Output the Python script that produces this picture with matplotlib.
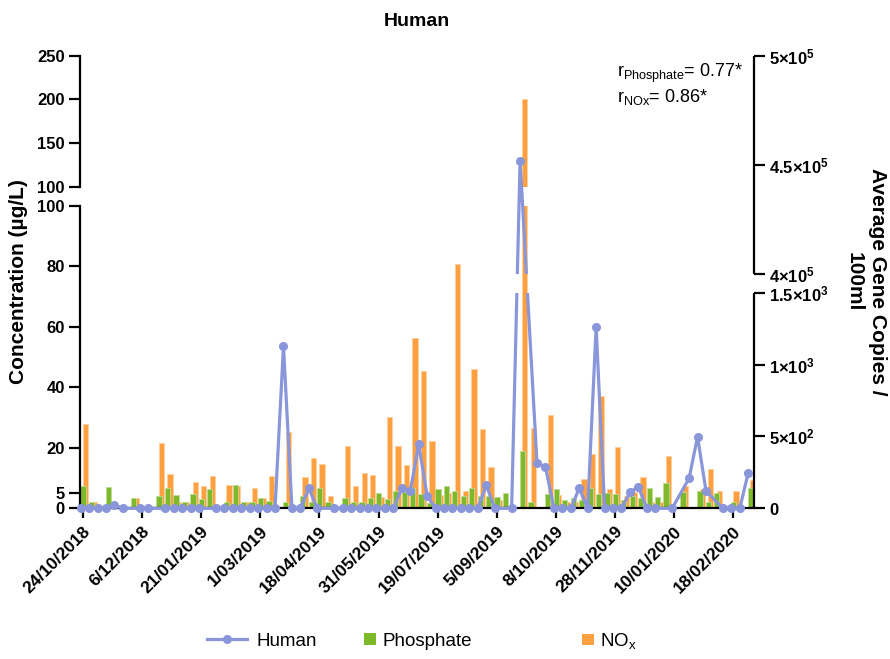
import numpy as np
import matplotlib
matplotlib.use("Agg")
import matplotlib.pyplot as plt
import matplotlib.patches as mpatches
from matplotlib.lines import Line2D
from matplotlib.legend_handler import HandlerPatch

plt.rcParams['font.family'] = ['Liberation Sans', 'DejaVu Sans']
plt.rcParams['mathtext.fontset'] = 'custom'
plt.rcParams['mathtext.rm'] = 'Liberation Sans'
plt.rcParams['mathtext.it'] = 'Liberation Sans:italic'
plt.rcParams['mathtext.bf'] = 'Liberation Sans:bold'

# --- sampling dates shown on the x axis (every 7th sample) ---
date_labels = ['24/10/2018', '6/12/2018', '21/01/2019', '1/03/2019', '18/04/2019',
               '31/05/2019', '19/07/2019', '5/09/2019', '8/10/2019', '28/11/2019',
               '10/01/2020', '18/02/2020']

# --- Human marker, gene copies / 100 ml (nan = not measured) ---
human = [0, 0, 0, 0, 23, 0, np.nan, 0, 0, np.nan,
         0, 0, 0, 0, 0, np.nan, 0, 0, 0, 0,
         0, 0, 0, 0, 1130, 0, 0, 139, 0, np.nan,
         0, 0, 0, 0, 0, 0, 0, 0, 139, 120,
         445, 88, 0, 0, 0, 0, 0, 0, 162, 0,
         np.nan, 0, 452000, np.nan, 313, 290, 0, 0, 0, 139,
         0, 1263, 0, 0, 0, 111, 150, 0, 0, np.nan,
         0, np.nan, 209, 498, 120, np.nan, 0, 0, 0, 248]

# --- nutrient concentrations, ug/L ---
phosphate = [7.2, 2.2, 0, 6.9, 0, 0, 3.5, 0, 0, 3.9,
             6.8, 4.3, 2.2, 4.6, 3.1, 6.4, 0, 2.2, 7.7, 2.2,
             2.2, 3.5, 2.5, 0, 2.2, 0, 3.9, 2.2, 6.6, 2.2,
             0, 3.5, 2.2, 2.2, 3.3, 5.2, 3.1, 5.7, 5.5, 6.8,
             4.6, 1.6, 6.3, 7.2, 5.7, 4.2, 6.6, 4.2, 4.2, 3.6,
             5.0, 0, 18.9, 2.2, 0, 4.6, 6.4, 2.8, 3.3, 2.8,
             6.6, 4.6, 5.2, 4.6, 2.8, 4.2, 3.5, 6.6, 3.6, 8.5,
             0, 5.5, 0, 5.7, 2.2, 5.0, 0, 2.2, 0, 6.6]

nox = [27.8, 2.2, 0, 2.2, 0, 0, 3.5, 0, 0, 21.5,
       11.2, 2.2, 2.2, 8.6, 7.2, 10.8, 0, 7.7, 7.2, 2.2,
       6.8, 3.5, 10.8, 0, 25.1, 0, 10.2, 16.7, 14.6, 3.9,
       0, 20.6, 7.2, 11.6, 11.0, 3.6, 30.3, 20.6, 14.3, 56.1,
       45.3, 22.3, 4.4, 5.0, 80.6, 5.8, 45.9, 26.2, 13.8, 2.8,
       0, 0, 200, 26.6, 0, 30.8, 4.4, 2.2, 2.2, 9.6,
       17.9, 37.2, 6.3, 20.1, 4.1, 5.5, 10.2, 2.2, 2.2, 17.4,
       0, 7.2, 0, 6.4, 13.0, 5.7, 0, 5.8, 0, 9.4]

human = np.array(human, dtype=float)
phosphate = np.array(phosphate)
nox = np.array(nox)
idx = np.arange(len(human))

c_human = '#8A96DA'
c_phos = '#7DB92A'
c_nox = '#FFA040'

# ___ figure geometry (pixels of a 890x659 canvas) ___
W, H = 890, 659
xl, xr = 80, 754
y_base, y_top = 508.3, 55.7
def fy(p):
    return 1 - p / H

fig = plt.figure(figsize=(W / 100, H / 100), dpi=100)
ax_lo = fig.add_axes([xl / W, fy(y_base), (xr - xl) / W, (y_base - 205.5) / H])
ax_hi = fig.add_axes([xl / W, fy(186.7), (xr - xl) / W, (186.7 - y_top) / H], sharex=ax_lo)
ax_r = fig.add_axes([xl / W, fy(y_base), (xr - xl) / W, (y_base - y_top) / H], sharex=ax_lo)
ax_r.patch.set_visible(False)

# --- bars, both segments of the broken left axis ---
for ax in (ax_lo, ax_hi):
    ax.bar(idx + 0.56, nox, width=0.63, color=c_nox, edgecolor='#FFCF9E', linewidth=0.6)
    ax.bar(idx + 0.28, phosphate, width=0.62, color=c_phos, edgecolor='#BEDC94', linewidth=0.6)
    for s in ('top', 'right'):
        ax.spines[s].set_visible(False)
    ax.spines['left'].set_linewidth(1.6)
    ax.tick_params(axis='y', direction='out', length=8, width=1.6, labelsize=12, pad=3)

ax_lo.set_ylim(0, 100)
ax_lo.set_yticks([0, 5, 20, 40, 60, 80, 100])
ax_lo.set_yticklabels(['0', '5', '20', '40', '60', '80', '100'], fontweight='bold')
ax_hi.set_ylim(100, 250)
ax_hi.set_yticks([100, 150, 200, 250])
ax_hi.set_yticklabels(['100', '150', '200', '250'], fontweight='bold')
ax_hi.spines['bottom'].set_visible(False)
ax_hi.tick_params(axis='x', bottom=False, labelbottom=False)

ax_lo.spines['bottom'].set_linewidth(1.6)
ax_lo.set_xlim(-0.08, 79.68)
ax_lo.set_xticks(np.arange(0, 78, 7) + 0.25)
ax_lo.set_xticklabels(date_labels, rotation=45, ha='right', rotation_mode='anchor',
                      fontsize=12.5, fontweight='bold')
ax_lo.tick_params(axis='x', direction='out', length=7, width=1.6, pad=4)

# --- right axis: broken scale 0-1500 | 4e5-5e5 ---
f1 = (y_base - 292.7) / (y_base - y_top)
f2 = (y_base - 274.3) / (y_base - y_top)
b1, b2, top = 1500.0, 4e5, 5e5

def fwd(v):
    v = np.asarray(v, dtype=float)
    return np.where(v <= b1, v / b1 * f1,
                    np.where(v <= b2, f1 + (v - b1) / (b2 - b1) * (f2 - f1),
                             f2 + (v - b2) / (top - b2) * (1 - f2)))

def inv(u):
    u = np.asarray(u, dtype=float)
    return np.where(u <= f1, u / f1 * b1,
                    np.where(u <= f2, b1 + (u - f1) / (f2 - f1) * (b2 - b1),
                             b2 + (u - f2) / (1 - f2) * (top - b2)))

ax_r.set_yscale('function', functions=(fwd, inv))

ok = ~np.isnan(human)
clip_lo = mpatches.Rectangle((-0.05, -0.1), 1.1, 0.1 + f1, transform=ax_r.transAxes)
clip_hi = mpatches.Rectangle((-0.05, f2), 1.1, 1.1 - f2, transform=ax_r.transAxes)
for clip in (clip_lo, clip_hi):
    ln, = ax_r.plot(idx[ok], human[ok], '-o', color=c_human, lw=2.3, ms=5.5, zorder=3)
    ln.set_clip_path(clip)

for lo, hi in ((0, f1), (f2, 1)):
    ax_r.add_artist(Line2D([1, 1], [lo, hi], transform=ax_r.transAxes, color='black',
                           lw=1.6, solid_capstyle='butt', clip_on=False))

for s in ax_r.spines.values():
    s.set_visible(False)
ax_r.tick_params(axis='x', bottom=False, labelbottom=False)
ax_r.yaxis.tick_right()
ax_r.set_ylim(0, top)
ax_r.set_yticks([0, 500, 1000, 1500, 4e5, 4.5e5, 5e5])
ax_r.set_yticklabels([r'$\mathbf{0}$', r'$\mathbf{5{\times}10^{2}}$', r'$\mathbf{1{\times}10^{3}}$',
                      r'$\mathbf{1.5{\times}10^{3}}$', r'$\mathbf{4{\times}10^{5}}$',
                      r'$\mathbf{4.5{\times}10^{5}}$', r'$\mathbf{5{\times}10^{5}}$'])
ax_r.tick_params(axis='y', direction='out', length=8, width=1.6, labelsize=12, pad=3)

# --- labels and annotation ---
fig.text(19 / W, fy(282), 'Concentration (µg/L)', rotation=90, ha='center', va='center',
         fontsize=15, fontweight='bold')
fig.text(866 / W, fy(282), 'Average Gene Copies /\n100ml', rotation=-90, ha='center',
         va='center', fontsize=15, fontweight='bold', linespacing=1.3)
fig.text(417 / W, fy(21), 'Human', ha='center', va='center', fontsize=14, fontweight='bold')
fig.text(617 / W, fy(73), r'r$_{\mathrm{Phosphate}}$= 0.77*', ha='left', va='center', fontsize=13)
fig.text(617 / W, fy(97), r'r$_{\mathrm{NOx}}$= 0.86*', ha='left', va='center', fontsize=13)

# --- legend: one entry per legend so each sits where it should ---
class SquareHandler(HandlerPatch):
    def create_artists(self, legend, orig_handle, xdescent, ydescent, width, height,
                       fontsize, trans):
        s = height * 0.88
        p = mpatches.Rectangle((width - s - xdescent, -ydescent + (height - s) / 2), s, s,
                               facecolor=orig_handle.get_facecolor(), edgecolor='none',
                               transform=trans)
        return [p]

leg_fs = 13.5
fs_px = leg_fs * 100 / 72
h_line = Line2D([], [], color=c_human, lw=2.3, marker='o', ms=5.5)
h_phos = mpatches.Patch(color=c_phos)
h_nox = mpatches.Patch(color=c_nox)
entries = [(h_line, 'Human', 207, 247, 257),
           (h_phos, 'Phosphate', 362, 376, 383),
           (h_nox, r'NO$_{\mathrm{x}}$', 580, 594, 600)]
for handle, text, x_start, x_end, x_text in entries:
    fig.legend([handle], [text], loc='center left', bbox_to_anchor=(x_start / W, fy(641)),
               frameon=False, fontsize=leg_fs, borderpad=0, borderaxespad=0,
               handlelength=(x_end - x_start) / fs_px,
               handletextpad=(x_text - x_end) / fs_px,
               handler_map={mpatches.Patch: SquareHandler()})

fig.savefig('out.png', dpi=100)
